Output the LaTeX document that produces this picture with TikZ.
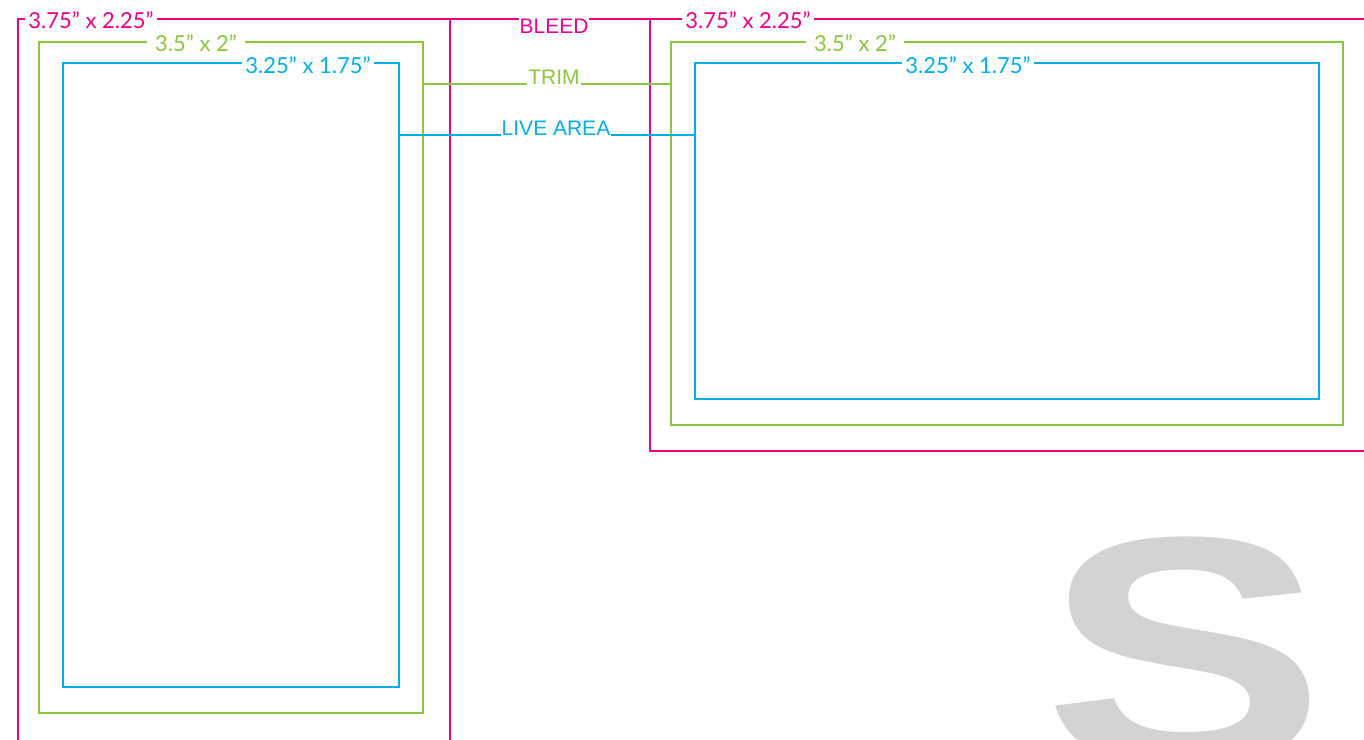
\documentclass[tikz,border=0pt]{standalone}
\usepackage{fontspec}
\setmainfont{Liberation Sans}
\newfontfamily\dimfont{Lato}
\usetikzlibrary{positioning}
\definecolor{bleedpink}{HTML}{EC008C}
\definecolor{trimgreen}{HTML}{8DC63F}
\definecolor{livecyan}{HTML}{00AEEF}
\definecolor{sgray}{HTML}{D1D3D4}

\begin{document}
\begin{tikzpicture}[x=1pt,y=-1pt,line width=2pt,
        frame/.style={rectangle,inner sep=0pt,outer sep=0pt},
        bleed/.style={frame,draw=bleedpink},
        trim/.style={frame,draw=trimgreen},
        live/.style={frame,draw=livecyan},
        dimlabel/.style={fill=white,inner sep=0pt,inner xsep=3pt,anchor=base,
            font=\dimfont\fontsize{22}{22}\selectfont},
        tag/.style={fill=white,inner sep=0pt,inner xsep=1pt,inner ysep=1pt,anchor=base,
            font=\fontsize{21}{21}\selectfont}]
    \useasboundingbox (0,0) rectangle (1364,739);
    \clip (0,0) rectangle (1364,739);

    % big grey letter
    \node[anchor=base west,inner sep=0pt,text=sgray,
        font=\bfseries\fontsize{326}{326}\selectfont] (bigS) at (1042,764) {\scalebox{1.30}[1]{S}};

    % left card (upright)
    \node[bleed,minimum width=432pt,minimum height=740pt] (lbleed) at (234,389) {};
    \node[trim,minimum width=384pt,minimum height=671pt]  (ltrim)  at (231,377.5) {};
    \node[live,minimum width=336pt,minimum height=624pt]  (llive)  at (231,375) {};

    % right card (landscape)
    \node[bleed,minimum width=730pt,minimum height=432pt] (rbleed) at (1015,235) {};
    \node[trim,minimum width=672pt,minimum height=383pt]  (rtrim)  at (1007,233.5) {};
    \node[live,minimum width=624pt,minimum height=336pt]  (rlive)  at (1007,231) {};

    % connectors between the cards
    \coordinate (trimrow) at (0,84);
    \coordinate (liverow) at (0,135);
    \draw[bleedpink] (lbleed.north east) -- (rbleed.north west);
    \draw[trimgreen] (ltrim.east |- trimrow) -- (rtrim.west |- trimrow);
    \draw[livecyan]  (llive.east |- liverow) -- (rlive.west |- liverow);

    \node[tag,text=bleedpink] (bleedtag) at (554,33.5) {BLEED};
    \node[tag,text=trimgreen] (trimtag)  at (554,84)   {TRIM};
    \node[tag,text=livecyan]  (livetag)  at (556,135)  {LIVE AREA};

    % sizes
    \node[dimlabel,text=bleedpink] (lbleedsize) at (91,28)  {3.75” x 2.25”};
    \node[dimlabel,text=trimgreen,inner xsep=8pt] (ltrimsize) at (196,51) {3.5” x 2”};
    \node[dimlabel,text=livecyan]  (llivesize)  at (308,73) {3.25” x 1.75”};
    \node[dimlabel,text=bleedpink] (rbleedsize) at (748,28) {3.75” x 2.25”};
    \node[dimlabel,text=trimgreen,inner xsep=8pt] (rtrimsize) at (855,51) {3.5” x 2”};
    \node[dimlabel,text=livecyan]  (rlivesize)  at (968,73) {3.25” x 1.75”};
\end{tikzpicture}
\end{document}
